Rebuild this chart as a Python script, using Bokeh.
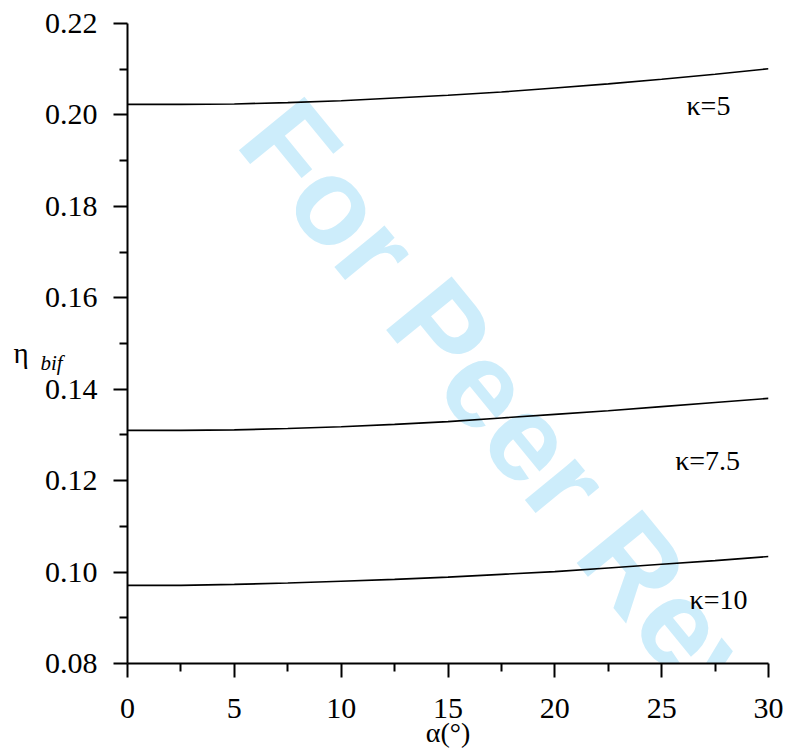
from bokeh.plotting import figure
from bokeh.models import Range1d, FixedTicker, Label
from bokeh.embed import file_html
from bokeh.resources import INLINE

# ---- data ----
alpha = [0, 2.5, 5, 7.5, 10, 12.5, 15, 17.5, 20, 22.5, 25, 27.5, 30]
eta_k5 = [0.2023, 0.2023, 0.2024, 0.2027, 0.2031, 0.2037, 0.2043,
          0.2050, 0.2059, 0.2068, 0.2078, 0.2089, 0.2101]
eta_k75 = [0.1310, 0.1310, 0.1311, 0.1314, 0.1318, 0.1323, 0.1329,
           0.1337, 0.1345, 0.1353, 0.1362, 0.1371, 0.1380]
eta_k10 = [0.0971, 0.0971, 0.0973, 0.0976, 0.0980, 0.0984, 0.0989,
           0.0995, 0.1001, 0.1009, 0.1017, 0.1025, 0.1034]

x_ticks = [0, 5, 10, 15, 20, 25, 30]
x_minor = [2.5, 7.5, 12.5, 17.5, 22.5, 27.5]
y_ticks = [0.08, 0.10, 0.12, 0.14, 0.16, 0.18, 0.20, 0.22]
y_tick_labels = ["0.08", "0.10", "0.12", "0.14", "0.16", "0.18", "0.20", "0.22"]
y_minor = [0.09, 0.11, 0.13, 0.15, 0.17, 0.19, 0.21]

curve_labels = ["κ=5", "κ=7.5", "κ=10"]

SERIF = "Liberation Serif"

p = figure(width=788, height=756, output_backend="svg", toolbar_location=None,
           x_range=Range1d(0, 30), y_range=Range1d(0.08, 0.22),
           min_border_left=127, min_border_right=20, min_border_top=23,
           min_border_bottom=93)
p.outline_line_color = None
p.xgrid.visible = False
p.ygrid.visible = False
p.background_fill_color = "white"
p.border_fill_color = "white"

# watermark (under the curves)
wm = Label(x=20.7, y=0.1185, text="For Peer Review", angle=-0.885,
           text_font="Liberation Sans", text_font_style="bold",
           text_font_size="123px", text_color="#cdedfb",
           text_align="center", text_baseline="middle", level="underlay")
p.add_layout(wm)

for ys in (eta_k5, eta_k75, eta_k10):
    p.line(alpha, ys, line_color="black", line_width=1.6)

for ax in (p.xaxis[0], p.yaxis[0]):
    ax.axis_line_width = 2
    ax.major_tick_line_width = 2
    ax.minor_tick_line_width = 2
    ax.major_tick_in = 0
    ax.major_tick_out = 14
    ax.minor_tick_in = 0
    ax.minor_tick_out = 8
    ax.major_label_text_font = SERIF
    ax.major_label_text_font_size = "30px"
    ax.major_label_text_color = "black"
    ax.axis_line_color = "black"
    ax.major_tick_line_color = "black"
    ax.minor_tick_line_color = "black"

p.xaxis[0].ticker = FixedTicker(ticks=x_ticks, minor_ticks=x_minor)
p.yaxis[0].ticker = FixedTicker(ticks=y_ticks, minor_ticks=y_minor)
p.yaxis[0].major_label_overrides = {t: s for t, s in zip(y_ticks, y_tick_labels)}
p.xaxis[0].major_label_standoff = 21
p.yaxis[0].major_label_standoff = 16

p.xaxis[0].axis_label = "α(°)"
p.xaxis[0].axis_label_text_font = SERIF
p.xaxis[0].axis_label_text_font_size = "28px"
p.xaxis[0].axis_label_text_font_style = "normal"
p.xaxis[0].axis_label_text_color = "black"
p.xaxis[0].axis_label_standoff = -4

# y-axis label: eta with italic subscript (side panel -> not clipped)
p.add_layout(Label(x=-5.34, y=0.14803, text="η", text_font=SERIF,
                   text_font_size="29px", text_align="left", text_color="black",
                   text_baseline="alphabetic"), "left")
p.add_layout(Label(x=-4.07, y=0.14584, text="bif", text_font=SERIF,
                   text_font_style="italic", text_font_size="21px", text_color="black",
                   text_align="left", text_baseline="alphabetic"), "left")

# curve labels
for (lx, ly), t in zip([(27.19, 0.2021), (27.15, 0.1244), (27.66, 0.0940)], curve_labels):
    p.add_layout(Label(x=lx, y=ly, text=t, text_font=SERIF, text_font_size="28px",
                       text_color="black", text_align="center", text_baseline="middle"))

open("out.html", "w").write(file_html(p, INLINE))
